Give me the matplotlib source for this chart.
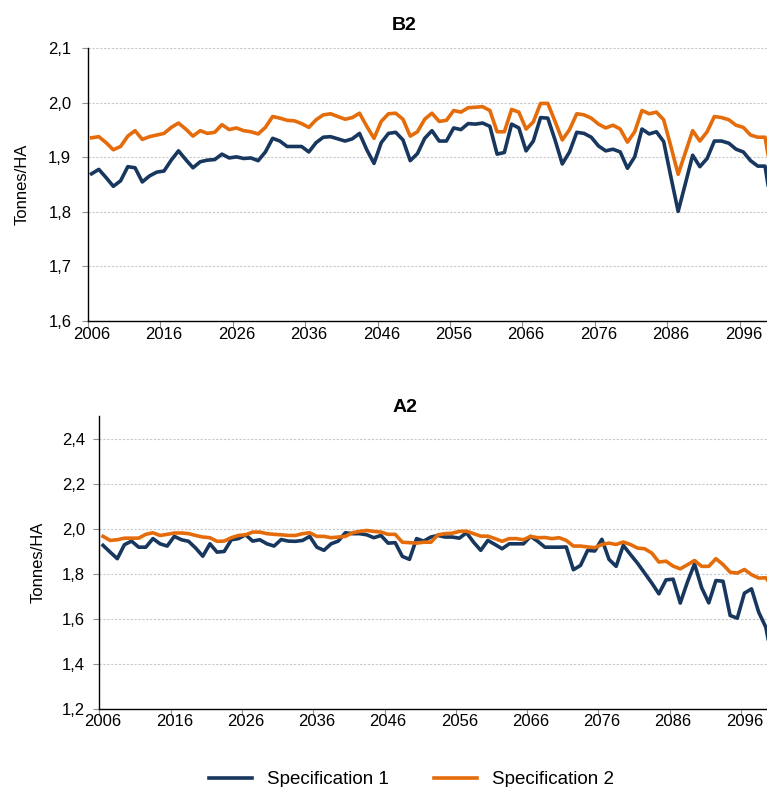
import matplotlib.pyplot as plt
from matplotlib.ticker import FuncFormatter

# ---------- data (Tonnes/HA), 2006-2100 ----------
years = list(range(2006, 2101))

b2_spec1 = [1.870, 1.878, 1.863, 1.847, 1.857, 1.883, 1.881, 1.855, 1.866, 1.873,
            1.875, 1.895, 1.912, 1.896, 1.881, 1.892, 1.895, 1.896, 1.906, 1.899,
            1.901, 1.898, 1.899, 1.894, 1.910, 1.935, 1.930, 1.920, 1.920, 1.920,
            1.910, 1.927, 1.937, 1.938, 1.934, 1.930, 1.934, 1.944, 1.914, 1.889,
            1.927, 1.944, 1.946, 1.932, 1.894, 1.907, 1.935, 1.949, 1.930, 1.930,
            1.954, 1.951, 1.962, 1.961, 1.963, 1.957, 1.906, 1.909, 1.961, 1.954,
            1.912, 1.930, 1.973, 1.972, 1.932, 1.888, 1.910, 1.946, 1.944, 1.937,
            1.921, 1.912, 1.915, 1.910, 1.880, 1.901, 1.952, 1.943, 1.947, 1.929,
            1.864, 1.801, 1.852, 1.904, 1.883, 1.898, 1.930, 1.930, 1.926, 1.915,
            1.910, 1.894, 1.884, 1.884, 1.800]

b2_spec2 = [1.936, 1.938, 1.927, 1.914, 1.920, 1.939, 1.949, 1.933, 1.938, 1.941,
            1.944, 1.955, 1.963, 1.952, 1.939, 1.949, 1.944, 1.946, 1.960, 1.951,
            1.954, 1.949, 1.947, 1.943, 1.955, 1.975, 1.972, 1.968, 1.967, 1.962,
            1.955, 1.969, 1.978, 1.980, 1.975, 1.970, 1.973, 1.981, 1.957, 1.935,
            1.966, 1.980, 1.981, 1.970, 1.939, 1.947, 1.970, 1.981, 1.966, 1.968,
            1.986, 1.983, 1.991, 1.992, 1.993, 1.986, 1.947, 1.947, 1.988, 1.983,
            1.952, 1.965, 1.999, 1.999, 1.966, 1.932, 1.951, 1.980, 1.978, 1.972,
            1.961, 1.954, 1.959, 1.952, 1.928, 1.947, 1.986, 1.980, 1.983, 1.969,
            1.920, 1.869, 1.909, 1.949, 1.930, 1.947, 1.975, 1.973, 1.969, 1.959,
            1.955, 1.941, 1.937, 1.937, 1.860]

a2_spec1 = [1.926, 1.896, 1.867, 1.929, 1.945, 1.918, 1.918, 1.956, 1.933, 1.923,
            1.966, 1.951, 1.944, 1.914, 1.878, 1.933, 1.896, 1.899, 1.951, 1.956,
            1.973, 1.945, 1.951, 1.933, 1.923, 1.952, 1.945, 1.944, 1.948, 1.966,
            1.918, 1.904, 1.933, 1.945, 1.982, 1.978, 1.978, 1.973, 1.960, 1.970,
            1.936, 1.938, 1.877, 1.864, 1.956, 1.945, 1.963, 1.970, 1.963, 1.963,
            1.958, 1.982, 1.940, 1.904, 1.948, 1.930, 1.911, 1.933, 1.933, 1.933,
            1.966, 1.944, 1.918, 1.918, 1.918, 1.919, 1.818, 1.837, 1.904, 1.901,
            1.953, 1.864, 1.833, 1.926, 1.886, 1.847, 1.803, 1.759, 1.711, 1.773,
            1.776, 1.670, 1.763, 1.844, 1.738, 1.671, 1.770, 1.767, 1.615, 1.603,
            1.714, 1.733, 1.630, 1.563, 1.400]

a2_spec2 = [1.966, 1.948, 1.951, 1.958, 1.958, 1.958, 1.975, 1.982, 1.970, 1.975,
            1.981, 1.981, 1.978, 1.970, 1.963, 1.960, 1.944, 1.945, 1.960, 1.970,
            1.973, 1.985, 1.985, 1.978, 1.975, 1.973, 1.970, 1.970, 1.978, 1.982,
            1.966, 1.966, 1.960, 1.963, 1.966, 1.982, 1.988, 1.992, 1.988, 1.985,
            1.975, 1.975, 1.940, 1.938, 1.936, 1.940, 1.940, 1.973, 1.978, 1.980,
            1.988, 1.989, 1.978, 1.967, 1.967, 1.956, 1.944, 1.956, 1.956, 1.951,
            1.966, 1.960, 1.961, 1.956, 1.960, 1.948, 1.923, 1.923, 1.919, 1.916,
            1.930, 1.936, 1.930, 1.941, 1.930, 1.914, 1.911, 1.892, 1.852, 1.856,
            1.834, 1.822, 1.840, 1.859, 1.833, 1.833, 1.867, 1.841, 1.807, 1.803,
            1.819, 1.796, 1.781, 1.782, 1.740]

label_years = list(range(2006, 2097, 10))
series_names = ["Specification 1", "Specification 2"]

BLUE = "#17375E"
ORANGE = "#E46C0A"

plt.rcParams['font.family'] = ['Liberation Sans', 'DejaVu Sans']

fig = plt.figure(figsize=(7.67, 7.87), dpi=100)
ax1 = fig.add_axes([0.1147, 0.5921, 0.8853, 0.3465])
ax2 = fig.add_axes([0.1297, 0.0991, 0.8703, 0.3723])


def comma_fmt(v, pos):
    return f"{v:.1f}".replace(".", ",")


def style_axis(ax, xlim, ylim, yticks, ypad, xpad, ylabel_x):
    ax.set_xlim(*xlim)
    ax.set_ylim(*ylim)
    ax.set_yticks(yticks)
    ax.yaxis.set_major_formatter(FuncFormatter(comma_fmt))
    # tick marks between categories, labels on the categories
    ax.set_xticks([y - 0.5 for y in label_years])
    ax.set_xticks(label_years, minor=True)
    ax.set_xticklabels([str(y) for y in label_years], minor=True)
    ax.tick_params(axis='x', which='major', length=4, color='#909090', labelbottom=False)
    ax.tick_params(axis='x', which='minor', length=0, labelsize=12, pad=xpad)
    ax.tick_params(axis='y', length=4, color='#909090', labelsize=12, pad=ypad)
    ax.grid(axis='y', color='#c8c8c8', linestyle=(0, (2, 1.5)), linewidth=0.8)
    ax.set_axisbelow(True)
    for side in ['top', 'right']:
        ax.spines[side].set_visible(False)
    for side in ['left', 'bottom']:
        ax.spines[side].set_color('black')
        ax.spines[side].set_linewidth(1.0)
    ax.set_ylabel("Tonnes/HA", fontsize=12)
    ax.yaxis.set_label_coords(ylabel_x, 0.5)


# ---------- B2 ----------
l1, = ax1.plot(years, b2_spec1, color=BLUE, lw=2.6, solid_joinstyle='round')
l2, = ax1.plot(years, b2_spec2, color=ORANGE, lw=2.6, solid_joinstyle='round')
style_axis(ax1, (2005.5, 2099.27), (1.6, 2.1), [1.6, 1.7, 1.8, 1.9, 2.0, 2.1],
           ypad=8, xpad=4.5, ylabel_x=-0.086)

# ---------- A2 ----------
ax2.plot(years, a2_spec1, color=BLUE, lw=2.6, solid_joinstyle='round')
ax2.plot(years, a2_spec2, color=ORANGE, lw=2.6, solid_joinstyle='round')
style_axis(ax2, (2005.55, 2099.17), (1.2, 2.5), [1.2, 1.4, 1.6, 1.8, 2.0, 2.2, 2.4],
           ypad=6.5, xpad=3.5, ylabel_x=-0.081)

fig.text(404 / 767, 1 - 25 / 787, "B2", ha='center', va='center', fontsize=14, fontweight='bold')
fig.text(405 / 767, 1 - 408 / 787, "A2", ha='center', va='center', fontsize=14, fontweight='bold')

fig.legend([l1, l2], series_names, loc='center', bbox_to_anchor=(0.536, 0.009),
           ncol=2, frameon=False, fontsize=13.5, handlelength=2.3,
           handletextpad=0.8, columnspacing=2.4, borderpad=0, borderaxespad=0)

fig.savefig("out.png", dpi=100)
